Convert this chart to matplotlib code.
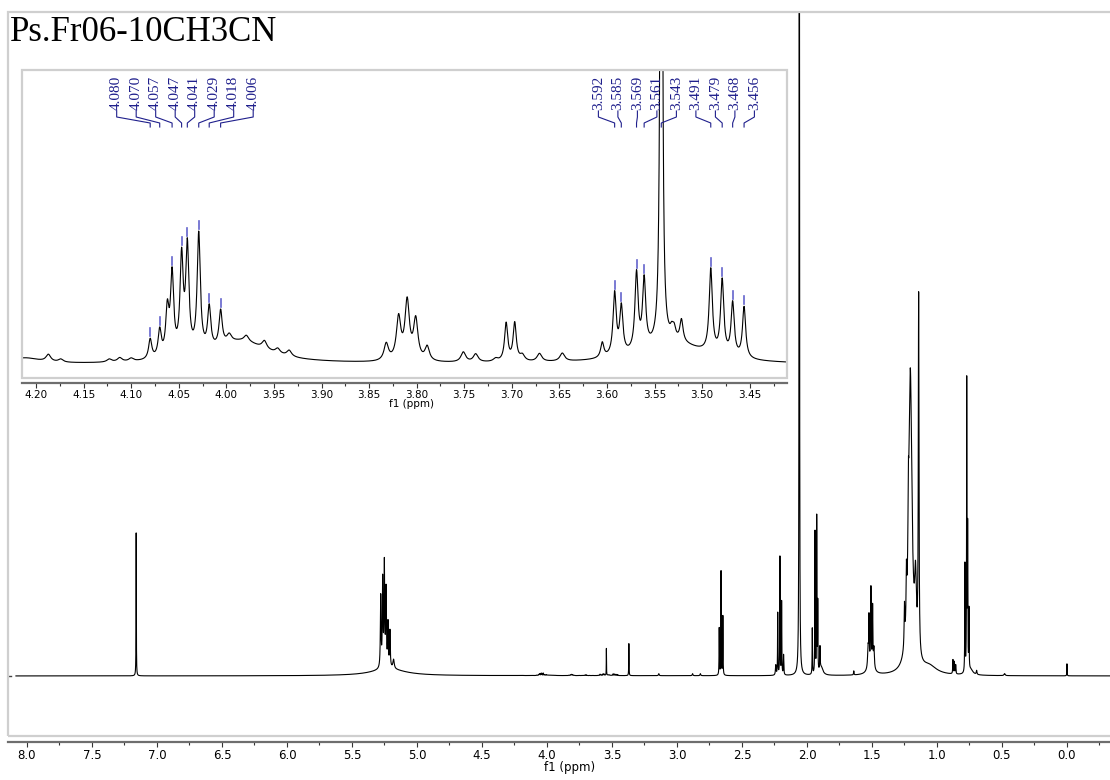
import numpy as np
import matplotlib
matplotlib.use('Agg')
import matplotlib.pyplot as plt
from matplotlib.patches import Rectangle
from matplotlib.ticker import MultipleLocator, FormatStrFormatter

W, H = 1110, 780

# full 1H spectrum: line positions (ppm), heights, half widths (ppm)
main_shift = [7.160,
              5.279, 5.264, 5.251, 5.238, 5.223, 5.208, 5.180, 5.220,
              3.370, 3.140, 2.880, 2.820,
              2.675, 2.661, 2.647,
              2.240, 2.225, 2.208, 2.195, 2.180,
              2.059,
              1.959, 1.938, 1.925, 1.917, 1.900, 1.890,
              1.640,
              1.530, 1.523, 1.508, 1.495, 1.485, 1.510,
              1.205, 1.250, 1.235, 1.220, 1.165, 1.141, 1.060,
              0.877, 0.866, 0.856,
              0.785, 0.771, 0.764, 0.754, 0.740, 0.695, 0.480,
              0.000]
main_height = [143,
               71, 86, 102, 76, 43, 36, 9, 7,
               32, 2, 2, 2,
               47, 104, 59,
               10, 62, 118, 73, 20,
               1500,
               46, 142, 156, 69, 23, 8,
               4,
               20, 45, 71, 57, 20, 15,
               300, 40, 50, 60, 70, 358, 8,
               14, 12, 9,
               108, 290, 140, 60, 5, 4, 2,
               12]
main_hwhm = [0.0012,
             0.003, 0.003, 0.003, 0.003, 0.003, 0.003, 0.006, 0.15,
             0.0012, 0.003, 0.003, 0.003,
             0.0015, 0.0015, 0.0015,
             0.003, 0.0015, 0.0015, 0.0015, 0.002,
             0.0015,
             0.0015, 0.0015, 0.0015, 0.0015, 0.002, 0.015,
             0.002,
             0.004, 0.002, 0.002, 0.002, 0.004, 0.02,
             0.015, 0.003, 0.003, 0.003, 0.008, 0.003, 0.07,
             0.002, 0.002, 0.002,
             0.0015, 0.0015, 0.0015, 0.0015, 0.02, 0.003, 0.005,
             0.0012]

# expansion 3.41-4.21 ppm (heights in expansion units)
zoom_shift = [3.800, 4.212, 4.187, 4.174, 4.123, 4.112, 4.100, 3.985,
              4.080, 4.070, 4.062, 4.057, 4.047, 4.041, 4.029, 4.018, 4.006,
              3.997, 3.979, 3.960, 3.946, 3.934,
              3.832, 3.819, 3.810, 3.801, 3.789,
              3.751, 3.738, 3.717, 3.706, 3.697, 3.689, 3.671, 3.647,
              3.530, 3.605, 3.592, 3.585, 3.569, 3.561, 3.543,
              3.532, 3.5295, 3.5218,
              3.491, 3.479, 3.468, 3.456]
zoom_height = [14, 6, 7, 3, 3, 4, 3, 22,
               20, 27, 45, 80, 95, 105, 118, 42, 35,
               8, 6, 8, 5, 6,
               17, 42, 58, 40, 14,
               10, 8, 3, 38, 38, 6, 8, 8,
               20, 15, 62, 47, 77, 68, 1350,
               8, 10, 22,
               83, 74, 53, 51]
zoom_hwhm = [2.0, 0.02, 0.003, 0.003, 0.003, 0.003, 0.003, 0.035,
             0.002, 0.002, 0.002, 0.002, 0.002, 0.002, 0.002, 0.002, 0.002,
             0.003, 0.003, 0.003, 0.003, 0.003,
             0.0028, 0.0028, 0.0028, 0.0028, 0.0028,
             0.003, 0.003, 0.003, 0.002, 0.002, 0.003, 0.003, 0.003,
             0.04, 0.002, 0.002, 0.002, 0.002, 0.002, 0.0009,
             0.002, 0.002, 0.002,
             0.002, 0.002, 0.002, 0.002]
zoom_gain = 50.0

# picked peaks
picks_a = [4.080, 4.070, 4.057, 4.047, 4.041, 4.029, 4.018, 4.006]
picks_b = [3.592, 3.585, 3.569, 3.561, 3.543, 3.491, 3.479, 3.468, 3.456]

sample_name = 'Ps.Fr06-10CH3CN'


def lorentz(x, shifts, heights, widths):
    y = np.zeros_like(x)
    for c, h, w in zip(shifts, heights, widths):
        y += h / (1.0 + ((x - c) / w) ** 2)
    return y


def px_box(x0, y0, x1, y1):
    return [x0 / W, 1 - y1 / H, (x1 - x0) / W, (y1 - y0) / H]


def frame(ax, color='#cfcfcf'):
    for s in ax.spines.values():
        s.set_visible(False)
    ax.add_patch(Rectangle((0, 0), 1, 1, transform=ax.transAxes, fill=False,
                           ec=color, lw=1.6, clip_on=False, zorder=5))
    ax.spines['bottom'].set_visible(True)
    ax.spines['bottom'].set_color('#6e6e6e')
    ax.spines['bottom'].set_linewidth(1.6)
    ax.set_yticks([])


fig = plt.figure(figsize=(W / 100, H / 100), dpi=100)
plt.rcParams['font.family'] = 'DejaVu Sans'

# ---- full spectrum
ax = fig.add_axes(px_box(8, 12, 1120, 736))
frame(ax)
x = np.linspace(8.15, -0.41, 60000)
y = lorentz(x, main_shift, main_height, main_hwhm) + \
    lorentz(x, zoom_shift, zoom_height, zoom_hwhm) / zoom_gain
keep = x < 8.085
ax.plot(x[keep], y[keep], color='black', lw=0.8)
ax.set_xlim(8.146, -0.408)
ax.set_ylim(-60, 664)
ax.spines['bottom'].set_position(('outward', 4.3))
ax.xaxis.set_major_locator(MultipleLocator(0.5))
ax.xaxis.set_minor_locator(MultipleLocator(0.25))
ax.xaxis.set_major_formatter(FormatStrFormatter('%.1f'))
ax.tick_params(axis='x', which='major', length=3.6, width=0.8, color='#333333',
               labelsize=8.5, pad=1.5)
ax.tick_params(axis='x', which='minor', length=2.2, width=0.8, color='#333333')
ax.set_xlabel('f1 (ppm)', fontsize=8.5)
ax.xaxis.set_label_coords(0.5054, -0.034)
ax.plot([0, 0.003], [0, 0], transform=ax.get_yaxis_transform(), color='#444444',
        lw=1.0, clip_on=False)

fig.text(10 / W, 1 - 16 / H, sample_name, fontsize=25, family='Liberation Serif',
         va='top', ha='left')

# ---- expansion
axi = fig.add_axes(px_box(22, 70, 787, 378))
frame(axi)
axi.set_facecolor('white')
xi = np.linspace(4.22, 3.40, 12000)
yi = lorentz(xi, zoom_shift, zoom_height, zoom_hwhm)
axi.plot(xi, yi, color='black', lw=0.8)
axi.set_xlim(4.2147, 3.4109)
axi.set_ylim(0, 308)
axi.spines['bottom'].set_position(('outward', 3.6))
axi.xaxis.set_major_locator(MultipleLocator(0.05))
axi.xaxis.set_minor_locator(MultipleLocator(0.025))
axi.xaxis.set_major_formatter(FormatStrFormatter('%.2f'))
axi.tick_params(axis='x', which='major', length=3.6, width=0.8, color='#333333',
                labelsize=7.5, pad=1.2)
axi.tick_params(axis='x', which='minor', length=2.2, width=0.8, color='#333333')
axi.set_xlabel('f1 (ppm)', fontsize=7.5)
axi.xaxis.set_label_coords(0.5085, -0.068)

label_col = '#1f1f8c'
mark_col = '#6464cc'
spacing = 0.02049
tr = axi.get_xaxis_transform()
for group in (picks_a, picks_b):
    centre = np.mean(group)
    n = len(group)
    for i, p in enumerate(group):
        lx = centre + (n - 1) / 2 * spacing - i * spacing
        axi.text(lx, 0.870, '%.3f' % p, rotation=90, ha='center', va='bottom',
                 fontsize=11, family='Liberation Serif', color=label_col,
                 transform=tr)
        axi.plot([lx, lx, p, p], [0.8669, 0.8474, 0.8279, 0.8149],
                 color=label_col, lw=0.8, transform=tr)
        top = lorentz(np.array([p]), zoom_shift, zoom_height, zoom_hwhm)[0]
        if top + 10 < 308:
            axi.plot([p, p], [top + 2, top + 10], color=mark_col, lw=1.2)

fig.savefig('out.png', dpi=100)
